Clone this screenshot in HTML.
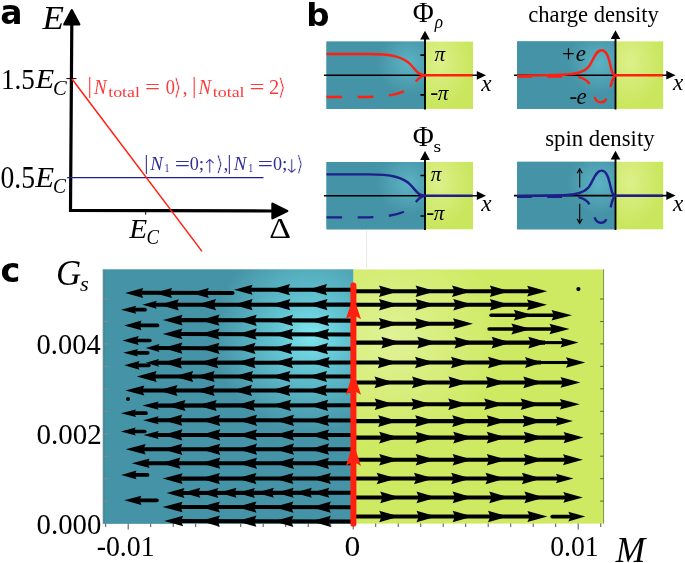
<!DOCTYPE html>
<html lang="en"><head><meta charset="utf-8"><title>Figure</title>
<style>html,body{margin:0;padding:0;background:#fff}svg{display:block}text{white-space:pre}</style>
</head><body>
<svg width="685" height="563" viewBox="0 0 685 563">
<rect width="685" height="563" fill="#fff"/>
<defs>
<radialGradient id="gb" gradientUnits="userSpaceOnUse" cx="311" cy="335" r="98">
<stop offset="0" stop-color="#7fe6ee"/><stop offset="0.35" stop-color="#62c4d2"/><stop offset="1" stop-color="#4593a6"/>
</radialGradient>
<radialGradient id="gg" gradientUnits="userSpaceOnUse" cx="392" cy="338" r="110">
<stop offset="0" stop-color="#e0f296"/><stop offset="1" stop-color="#ceea62"/>
</radialGradient>
<radialGradient id="sb" gradientUnits="objectBoundingBox" cx="0.83" cy="0.32" r="0.32" gradientTransform="translate(0.83 0.32) scale(1 1.45) translate(-0.83 -0.32)">
<stop offset="0" stop-color="#5cb3c3"/><stop offset="1" stop-color="#4593a6"/>
</radialGradient>
<radialGradient id="sg" gradientUnits="objectBoundingBox" cx="0.3" cy="0.3" r="0.7">
<stop offset="0" stop-color="#dcf08a"/><stop offset="1" stop-color="#c9e65c"/>
</radialGradient>
</defs>
<text x="0.2" y="24.3" font-size="33" fill="#000" font-family='"DejaVu Sans", "Liberation Sans", sans-serif' font-weight="bold" >a</text>
<text x="42.6" y="29.2" font-size="33" fill="#000" font-family='"Liberation Serif", serif' font-style="italic" textLength="21.5" lengthAdjust="spacingAndGlyphs" >E</text>
<path d="M71.8 24 L70.5 210.3 L272 211" fill="none" stroke="#000" stroke-width="3.2" stroke-linejoin="miter"/>
<path d="M71.8 10.2 L79.2 24.4 H64.4 Z" fill="#000" stroke="#000" stroke-width="2.4" stroke-linejoin="round"/>
<path d="M287.2 211 L272.5 203.7 V218.3 Z" fill="#000" stroke="#000" stroke-width="2.4" stroke-linejoin="round"/>
<path d="M66.4 78.6 H76.4" stroke="#000" stroke-width="1"/>
<path d="M145.7 210 V214.6" stroke="#000" stroke-width="1"/>
<text x="1.01" y="88.69" font-size="29.21" fill="#000" font-family='"Liberation Serif", serif' textLength="33.95" lengthAdjust="spacingAndGlyphs" >1.5</text>
<text x="35.56" y="88.4" font-size="27.49" fill="#000" font-family='"Liberation Serif", serif' font-style="italic" textLength="18.73" lengthAdjust="spacingAndGlyphs" >E</text>
<text x="52.95" y="95.0" font-size="20.5" fill="#000" font-family='"Liberation Serif", serif' font-style="italic" textLength="13.76" lengthAdjust="spacingAndGlyphs" >C</text>
<text x="0.45" y="187.76" font-size="30.77" fill="#000" font-family='"Liberation Serif", serif' textLength="34.53" lengthAdjust="spacingAndGlyphs" >0.5</text>
<text x="35.36" y="187.1" font-size="28.56" fill="#000" font-family='"Liberation Serif", serif' font-style="italic" textLength="18.84" lengthAdjust="spacingAndGlyphs" >E</text>
<text x="53.01" y="193.0" font-size="20.3" fill="#000" font-family='"Liberation Serif", serif' font-style="italic" textLength="13.0" lengthAdjust="spacingAndGlyphs" >C</text>
<text x="129.34" y="238.3" font-size="27.49" fill="#000" font-family='"Liberation Serif", serif' font-style="italic" textLength="17.93" lengthAdjust="spacingAndGlyphs" >E</text>
<text x="146.56" y="243.8" font-size="20.5" fill="#000" font-family='"Liberation Serif", serif' font-style="italic" textLength="12.47" lengthAdjust="spacingAndGlyphs" >C</text>
<text x="269.31" y="238.2" font-size="29.5" fill="#000" font-family='"Liberation Serif", serif' textLength="21.76" lengthAdjust="spacingAndGlyphs" >Δ</text>
<path d="M67.2 177.7 H263.5" stroke="#1f1f8c" stroke-width="1.2" fill="none"/>
<path d="M72 79 L202 251.4" stroke="#ff2010" stroke-width="1.5" fill="none"/>
<text x="87.44" y="93.31" font-size="22.65" fill="#ff3a3a" font-family='"Liberation Serif", serif' textLength="4.42" lengthAdjust="spacingAndGlyphs" >|</text>
<text x="93.94" y="93.6" font-size="20.5" fill="#ff3a3a" font-family='"Liberation Serif", serif' font-style="italic" textLength="12.59" lengthAdjust="spacingAndGlyphs" >N</text>
<text x="108.23" y="96.6" font-size="14.5" fill="#ff3a3a" font-family='"Liberation Serif", serif' textLength="31.73" lengthAdjust="spacingAndGlyphs" >total</text>
<text x="144.97" y="94.2" font-size="21" fill="#ff3a3a" font-family='"Liberation Serif", serif' textLength="15.03" lengthAdjust="spacingAndGlyphs" >=</text>
<text x="192.04" y="93.31" font-size="22.65" fill="#ff3a3a" font-family='"Liberation Serif", serif' textLength="4.42" lengthAdjust="spacingAndGlyphs" >|</text>
<text x="198.54" y="93.6" font-size="20.5" fill="#ff3a3a" font-family='"Liberation Serif", serif' font-style="italic" textLength="12.59" lengthAdjust="spacingAndGlyphs" >N</text>
<text x="212.83" y="96.6" font-size="14.5" fill="#ff3a3a" font-family='"Liberation Serif", serif' textLength="31.73" lengthAdjust="spacingAndGlyphs" >total</text>
<text x="249.57" y="94.2" font-size="21" fill="#ff3a3a" font-family='"Liberation Serif", serif' textLength="15.03" lengthAdjust="spacingAndGlyphs" >=</text>
<text x="165.7" y="93.6" font-size="20.5" fill="#ff3a3a" font-family='"Liberation Serif", serif' textLength="9.2" lengthAdjust="spacingAndGlyphs" >0</text>
<text x="173.29" y="95.15" font-size="23.13" fill="#ff3a3a" font-family='"DejaVu Sans", sans-serif' textLength="8.31" lengthAdjust="spacingAndGlyphs" stroke="#fff" stroke-width="0.55">⟩</text>
<text x="182.6" y="93.6" font-size="20.5" fill="#ff3a3a" font-family='"Liberation Serif", serif' >,</text>
<text x="268.9" y="93.6" font-size="20.5" fill="#ff3a3a" font-family='"Liberation Serif", serif' textLength="10.23" lengthAdjust="spacingAndGlyphs" >2</text>
<text x="277.52" y="95.15" font-size="23.13" fill="#ff3a3a" font-family='"DejaVu Sans", sans-serif' textLength="8.66" lengthAdjust="spacingAndGlyphs" stroke="#fff" stroke-width="0.55">⟩</text>
<text x="144.21" y="168.99" font-size="20.45" fill="#2f2f96" font-family='"Liberation Serif", serif' textLength="4.22" lengthAdjust="spacingAndGlyphs" >|</text>
<text x="227.31" y="168.99" font-size="20.45" fill="#2f2f96" font-family='"Liberation Serif", serif' textLength="4.22" lengthAdjust="spacingAndGlyphs" >|</text>
<text x="150.34" y="169.9" font-size="19.5" fill="#2f2f96" font-family='"Liberation Serif", serif' font-style="italic" textLength="12.59" lengthAdjust="spacingAndGlyphs" >N</text>
<text x="233.74" y="169.9" font-size="19.5" fill="#2f2f96" font-family='"Liberation Serif", serif' font-style="italic" textLength="12.59" lengthAdjust="spacingAndGlyphs" >N</text>
<text x="164.43" y="171.6" font-size="13.5" fill="#2f2f96" font-family='"Liberation Serif", serif' textLength="4.97" lengthAdjust="spacingAndGlyphs" >1</text>
<text x="248.13" y="171.6" font-size="13.5" fill="#2f2f96" font-family='"Liberation Serif", serif' textLength="4.97" lengthAdjust="spacingAndGlyphs" >1</text>
<text x="174.65" y="171.3" font-size="20" fill="#2f2f96" font-family='"Liberation Serif", serif' textLength="15.27" lengthAdjust="spacingAndGlyphs" >=</text>
<text x="257.65" y="171.3" font-size="20" fill="#2f2f96" font-family='"Liberation Serif", serif' textLength="15.27" lengthAdjust="spacingAndGlyphs" >=</text>
<text x="189.81" y="169.9" font-size="19.5" fill="#2f2f96" font-family='"Liberation Serif", serif' textLength="9.08" lengthAdjust="spacingAndGlyphs" >0</text>
<text x="272.91" y="169.9" font-size="19.5" fill="#2f2f96" font-family='"Liberation Serif", serif' textLength="9.08" lengthAdjust="spacingAndGlyphs" >0</text>
<text x="198.7" y="169.9" font-size="19.5" fill="#2f2f96" font-family='"Liberation Serif", serif' >;</text>
<text x="282" y="169.9" font-size="19.5" fill="#2f2f96" font-family='"Liberation Serif", serif' >;</text>
<text x="200.9" y="172.8" font-size="19.39" fill="#2f2f96" font-family='"DejaVu Sans", sans-serif' textLength="17.63" lengthAdjust="spacingAndGlyphs" stroke="#fff" stroke-width="0.55">↑</text>
<text x="215.53" y="170.65" font-size="20.88" fill="#2f2f96" font-family='"DejaVu Sans", sans-serif' textLength="8.13" lengthAdjust="spacingAndGlyphs" stroke="#fff" stroke-width="0.55">⟩</text>
<text x="223.4" y="169.9" font-size="19.5" fill="#2f2f96" font-family='"Liberation Serif", serif' >,</text>
<text x="282.9" y="172.73" font-size="19.39" fill="#2f2f96" font-family='"DejaVu Sans", sans-serif' textLength="17.63" lengthAdjust="spacingAndGlyphs" stroke="#fff" stroke-width="0.55">↓</text>
<text x="296.0" y="170.65" font-size="20.88" fill="#2f2f96" font-family='"DejaVu Sans", sans-serif' textLength="7.78" lengthAdjust="spacingAndGlyphs" stroke="#fff" stroke-width="0.55">⟩</text>
<text x="306.3" y="26.2" font-size="32.5" fill="#000" font-family='"DejaVu Sans", "Liberation Sans", sans-serif' font-weight="bold" >b</text>
<rect x="326.5" y="41.6" width="98.5" height="67.30000000000001" fill="#4593a6"/>
<rect x="326.5" y="41.6" width="98.5" height="67.30000000000001" fill="url(#sb)"/>
<rect x="425.0" y="41.6" width="48.0" height="67.30000000000001" fill="url(#sg)"/>
<path d="M324 75.3 H480" stroke="#000" stroke-width="1.6"/>
<path d="M486 75.3 L476.8 70.89999999999999 V79.7 Z" fill="#000"/>
<path d="M425.0 109.5 V36.7" stroke="#000" stroke-width="1.9"/>
<path d="M425.0 30.7 L420.2 39.5 H429.8 Z" fill="#000"/>
<path d="M420.4 55.1 H425.0 M420.4 94.9 H425.0" stroke="#000" stroke-width="1.7"/>
<path d="M326.5 54 H368 C392 54 403 57 410 64 C416 70 418 75.2 425.0 75.3 H472.5" fill="none" stroke="#ff2010" stroke-width="2.4"/>
<path d="M326.5 97 H362 C390 97 403 93.5 411 87 C417 81 419 75.6 425.0 75.4" fill="none" stroke="#ff2010" stroke-width="2.4" stroke-dasharray="15.6 15.6"/>
<text x="412.83" y="21.9" font-size="28.56" fill="#000" font-family='"Liberation Serif", serif' textLength="21.04" lengthAdjust="spacingAndGlyphs" >Φ</text>
<text x="434.64" y="27.84" font-size="19.06" fill="#000" font-family='"Liberation Serif", serif' font-style="italic" textLength="8.28" lengthAdjust="spacingAndGlyphs" >ρ</text>
<text x="434.49" y="60.5" font-size="20.27" fill="#000" font-family='"Liberation Serif", serif' font-style="italic" textLength="10.63" lengthAdjust="spacingAndGlyphs" >π</text>
<text x="430.3" y="99.5" font-size="24" fill="#000" font-family='"Liberation Serif", serif' >-</text>
<text x="437.89" y="99.5" font-size="20.27" fill="#000" font-family='"Liberation Serif", serif' font-style="italic" textLength="10.63" lengthAdjust="spacingAndGlyphs" >π</text>
<text x="481.28" y="91" font-size="24" fill="#000" font-family='"Liberation Serif", serif' font-style="italic" textLength="10.29" lengthAdjust="spacingAndGlyphs" >x</text>
<rect x="517" y="41.4" width="98.5" height="67.5" fill="#4593a6"/>
<rect x="517" y="41.4" width="98.5" height="67.5" fill="url(#sb)"/>
<rect x="615.5" y="41.4" width="47.700000000000045" height="67.5" fill="url(#sg)"/>
<path d="M514 75.2 H669.5" stroke="#000" stroke-width="1.6"/>
<path d="M675.5 75.2 L666.3 70.8 V79.60000000000001 Z" fill="#000"/>
<path d="M615.5 109.5 V36.3" stroke="#000" stroke-width="1.9"/>
<path d="M615.5 30.3 L610.7 39.1 H620.3 Z" fill="#000"/>
<path d="M517 76.5 H563.2" fill="none" stroke="#ff2010" stroke-width="2.4" stroke-dasharray="14.7 15.6"/>
<path d="M578.3 76.8 C583 77.8 587 80 589.5 84" fill="none" stroke="#ff2010" stroke-width="2.4" stroke-linecap="butt"/>
<path d="M594.6 97 C596.5 103.6 603.8 104 606.4 98.8" fill="none" stroke="#ff2010" stroke-width="2.4"/>
<path d="M610.6 87 C612 82 612.5 77 615.5 75.4" fill="none" stroke="#ff2010" stroke-width="2.4"/>
<path d="M517 75.9 L564 74.7 C576 74.4 584 72.5 588.7 66.8 C593.5 60.5 595.3 50.2 601.5 50.2 C608 50.2 609.5 62.5 611.5 70 C612.5 74 613.5 75.2 615.5 75.3 H662.8" fill="none" stroke="#ff2010" stroke-width="2.4"/>
<text x="528.34" y="21.8" font-size="22.8" fill="#000" font-family='"Liberation Serif", serif' textLength="130.54" lengthAdjust="spacingAndGlyphs" >charge density</text>
<text x="562" y="60.8" font-size="23" fill="#000" font-family='"Liberation Serif", serif' >+</text>
<text x="575.8" y="60.8" font-size="23" fill="#000" font-family='"Liberation Serif", serif' font-style="italic" >e</text>
<text x="569.5" y="104" font-size="23" fill="#000" font-family='"Liberation Serif", serif' >-</text>
<text x="576.5" y="104" font-size="23" fill="#000" font-family='"Liberation Serif", serif' font-style="italic" >e</text>
<text x="672.88" y="90.4" font-size="24" fill="#000" font-family='"Liberation Serif", serif' font-style="italic" textLength="10.29" lengthAdjust="spacingAndGlyphs" >x</text>
<rect x="326.5" y="162.0" width="98.5" height="67.30000000000001" fill="#4593a6"/>
<rect x="326.5" y="162.0" width="98.5" height="67.30000000000001" fill="url(#sb)"/>
<rect x="425.0" y="162.0" width="48.0" height="67.30000000000001" fill="url(#sg)"/>
<path d="M324 195.7 H480" stroke="#000" stroke-width="1.6"/>
<path d="M486 195.7 L476.8 191.29999999999998 V200.1 Z" fill="#000"/>
<path d="M425.0 229.9 V157.1" stroke="#000" stroke-width="1.9"/>
<path d="M425.0 151.1 L420.2 159.9 H429.8 Z" fill="#000"/>
<path d="M420.4 175.5 H425.0 M420.4 216.0 H425.0" stroke="#000" stroke-width="1.7"/>
<path d="M326.5 174.4 H368 C392 174.4 403 177.4 410 184.4 C416 190.4 418 195.60000000000002 425.0 195.7 H472.5" fill="none" stroke="#1f1f8c" stroke-width="2.4"/>
<path d="M326.5 217.4 H362 C390 217.4 403 213.9 411 207.4 C417 201.4 419 196.0 425.0 195.8" fill="none" stroke="#1f1f8c" stroke-width="2.4" stroke-dasharray="15.6 15.6"/>
<text x="412.83" y="146.1" font-size="29.02" fill="#000" font-family='"Liberation Serif", serif' textLength="21.04" lengthAdjust="spacingAndGlyphs" >Φ</text>
<text x="433.6" y="151.53" font-size="17.47" fill="#000" font-family='"Liberation Serif", serif' textLength="7.61" lengthAdjust="spacingAndGlyphs" >s</text>
<text x="430.69" y="181.1" font-size="20.27" fill="#000" font-family='"Liberation Serif", serif' font-style="italic" textLength="10.63" lengthAdjust="spacingAndGlyphs" >π</text>
<text x="426.3" y="220.3" font-size="24" fill="#000" font-family='"Liberation Serif", serif' >-</text>
<text x="433.89" y="219.8" font-size="20.27" fill="#000" font-family='"Liberation Serif", serif' font-style="italic" textLength="10.63" lengthAdjust="spacingAndGlyphs" >π</text>
<text x="481.28" y="211.4" font-size="24" fill="#000" font-family='"Liberation Serif", serif' font-style="italic" textLength="10.29" lengthAdjust="spacingAndGlyphs" >x</text>
<rect x="517" y="161.8" width="98.5" height="67.5" fill="#4593a6"/>
<rect x="517" y="161.8" width="98.5" height="67.5" fill="url(#sb)"/>
<rect x="615.5" y="161.8" width="47.700000000000045" height="67.5" fill="url(#sg)"/>
<path d="M514 195.60000000000002 H669.5" stroke="#000" stroke-width="1.6"/>
<path d="M675.5 195.60000000000002 L666.3 191.20000000000002 V200.00000000000003 Z" fill="#000"/>
<path d="M615.5 229.9 V156.70000000000002" stroke="#000" stroke-width="1.9"/>
<path d="M615.5 150.70000000000002 L610.7 159.50000000000003 H620.3 Z" fill="#000"/>
<path d="M517 196.9 H563.2" fill="none" stroke="#1f1f8c" stroke-width="2.4" stroke-dasharray="14.7 15.6"/>
<path d="M578.3 197.2 C583 198.2 587 200.4 589.5 204.4" fill="none" stroke="#1f1f8c" stroke-width="2.4" stroke-linecap="butt"/>
<path d="M594.6 217.4 C596.5 224.0 603.8 224.4 606.4 219.2" fill="none" stroke="#1f1f8c" stroke-width="2.4"/>
<path d="M610.6 207.4 C612 202.4 612.5 197.4 615.5 195.8" fill="none" stroke="#1f1f8c" stroke-width="2.4"/>
<path d="M517 196.3 L564 195.1 C576 194.8 584 192.9 588.7 187.2 C593.5 180.9 595.3 170.6 601.5 170.6 C608 170.6 609.5 182.9 611.5 190.4 C612.5 194.4 613.5 195.6 615.5 195.7 H662.8" fill="none" stroke="#1f1f8c" stroke-width="2.4"/>
<text x="545.27" y="146.2" font-size="22.8" fill="#000" font-family='"Liberation Serif", serif' textLength="109.32" lengthAdjust="spacingAndGlyphs" >spin density</text>
<path d="M579.7 187.6 V169.5 M577.1 173.2 L579.7 168.8 L582.3000000000001 173.2" fill="none" stroke="#000" stroke-width="1.1"/>
<path d="M579.7 203.8 V222.6 M577.1 218.9 L579.7 223.3 L582.3000000000001 218.9" fill="none" stroke="#000" stroke-width="1.1"/>
<text x="672.88" y="210.8" font-size="24" fill="#000" font-family='"Liberation Serif", serif' font-style="italic" textLength="10.29" lengthAdjust="spacingAndGlyphs" >x</text>
<path d="M366.6 230 V268" stroke="#e8e8e8" stroke-width="1"/>
<text x="0.6" y="281.7" font-size="33.5" fill="#000" font-family='"DejaVu Sans", "Liberation Sans", sans-serif' font-weight="bold" >c</text>
<text x="55.88" y="284.58" font-size="36.22" fill="#000" font-family='"Liberation Serif", serif' font-style="italic" textLength="25.17" lengthAdjust="spacingAndGlyphs" >G</text>
<text x="80.13" y="291.0" font-size="20.79" fill="#000" font-family='"Liberation Serif", serif' font-style="italic" textLength="8.76" lengthAdjust="spacingAndGlyphs" >s</text>
<text x="615.81" y="561.9" font-size="35.58" fill="#000" font-family='"Liberation Serif", serif' font-style="italic" textLength="29.46" lengthAdjust="spacingAndGlyphs" >M</text>
<rect x="102.9" y="269.2" width="250.49999999999997" height="254.40000000000003" fill="#4593a6"/>
<rect x="102.9" y="269.2" width="250.49999999999997" height="254.40000000000003" fill="url(#gb)"/>
<rect x="353.4" y="269.2" width="250.20000000000005" height="254.40000000000003" fill="url(#gg)"/>
<path d="M102.9 269.2 V523.6" stroke="#d9cfd2" stroke-width="1"/>
<path d="M103.80000000000001 269.2 V523.6" stroke="#3a7f92" stroke-width="0.9"/>
<path d="M603.6 269.2 V523.6" stroke="#7f8f4a" stroke-width="1"/>
<path d="M102.9 269.5 H603.6" stroke="#ffffff" stroke-opacity="0.35" stroke-width="0.8"/>
<path d="M103.4 501.1 h5.2 M103.4 478.7 h5.2 M103.4 456.2 h5.2 M103.4 433.8 h5.2 M103.4 411.3 h5.2 M103.4 388.8 h5.2 M103.4 366.4 h5.2 M103.4 343.9 h5.2 M103.4 321.5 h5.2 M103.4 299.0 h5.2" stroke="#85898a" stroke-width="1" fill="none"/>
<path d="M603.6 501.1 h-3.4 M603.6 478.7 h-3.4 M603.6 456.2 h-3.4 M603.6 433.8 h-3.4 M603.6 411.3 h-3.4 M603.6 388.8 h-3.4 M603.6 366.4 h-3.4 M603.6 343.9 h-3.4 M603.6 321.5 h-3.4 M603.6 299.0 h-3.4" stroke="#4a5530" stroke-width="0.9" fill="none"/>
<path d="M105.7 523.6 v3.3 M128.2 523.6 v6 M150.7 523.6 v3.3 M173.2 523.6 v3.3 M195.7 523.6 v3.3 M218.2 523.6 v3.3 M240.7 523.6 v3.3 M263.2 523.6 v3.3 M285.7 523.6 v3.3 M308.2 523.6 v3.3 M330.7 523.6 v3.3 M353.2 523.6 v6 M375.7 523.6 v3.3 M398.2 523.6 v3.3 M420.7 523.6 v3.3 M443.2 523.6 v3.3 M465.7 523.6 v3.3 M488.2 523.6 v3.3 M510.7 523.6 v3.3 M533.2 523.6 v3.3 M555.7 523.6 v3.3 M578.2 523.6 v6 M600.7 523.6 v3.3" stroke="#5a5a5a" stroke-width="1.05" fill="none"/>
<text x="36.61" y="354.03" font-size="29.96" fill="#000" font-family='"Liberation Serif", serif' textLength="64.13" lengthAdjust="spacingAndGlyphs" >0.004</text>
<text x="36.59" y="443.93" font-size="29.96" fill="#000" font-family='"Liberation Serif", serif' textLength="65.31" lengthAdjust="spacingAndGlyphs" >0.002</text>
<text x="36.6" y="533.73" font-size="29.96" fill="#000" font-family='"Liberation Serif", serif' textLength="64.79" lengthAdjust="spacingAndGlyphs" >0.000</text>
<text x="96.67" y="556.13" font-size="29.96" fill="#000" font-family='"Liberation Serif", serif' textLength="58.01" lengthAdjust="spacingAndGlyphs" >-0.01</text>
<text x="344.6" y="556.26" font-size="30.16" fill="#000" font-family='"Liberation Serif", serif' textLength="15.81" lengthAdjust="spacingAndGlyphs" >0</text>
<text x="550.15" y="556.13" font-size="29.96" fill="#000" font-family='"Liberation Serif", serif' textLength="48.42" lengthAdjust="spacingAndGlyphs" >0.01</text>
<path d="M353.4 291.2 L530.2 291.2" stroke="#000" stroke-width="4.05" stroke-linecap="butt" fill="none"/>
<path d="M353.4 304.8 L530.0 304.8" stroke="#000" stroke-width="4.05" stroke-linecap="butt" fill="none"/>
<path d="M353.4 323.7 L456.0 323.7" stroke="#000" stroke-width="4.05" stroke-linecap="butt" fill="none"/>
<path d="M353.4 342.6 L545.0 342.6" stroke="#000" stroke-width="4.05" stroke-linecap="butt" fill="none"/>
<path d="M544.0 342.6 L563.5 342.6" stroke="#000" stroke-width="3.1" stroke-linecap="butt" fill="none"/>
<path d="M353.4 362.5 L541.0 362.5" stroke="#000" stroke-width="4.05" stroke-linecap="butt" fill="none"/>
<path d="M540.0 362.5 L569.0 362.5" stroke="#000" stroke-width="3.1" stroke-linecap="butt" fill="none"/>
<path d="M353.4 382.4 L563.5 382.4" stroke="#000" stroke-width="4.05" stroke-linecap="butt" fill="none"/>
<path d="M353.4 404.2 L562.9 404.2" stroke="#000" stroke-width="4.05" stroke-linecap="butt" fill="none"/>
<path d="M353.4 421.1 L558.9 421.1" stroke="#000" stroke-width="4.05" stroke-linecap="butt" fill="none"/>
<path d="M353.4 437.6 L566.6 437.6" stroke="#000" stroke-width="4.05" stroke-linecap="butt" fill="none"/>
<path d="M353.4 459.7 L566.0 459.7" stroke="#000" stroke-width="4.05" stroke-linecap="butt" fill="none"/>
<path d="M353.4 478.5 L558.9 478.5" stroke="#000" stroke-width="4.05" stroke-linecap="butt" fill="none"/>
<path d="M353.4 497.4 L566.3 497.4" stroke="#000" stroke-width="4.05" stroke-linecap="butt" fill="none"/>
<path d="M353.4 516.5 L530.4 516.5" stroke="#000" stroke-width="4.05" stroke-linecap="butt" fill="none"/>
<path d="M491.0 315.2 L554.5 315.2" stroke="#000" stroke-width="3.4" stroke-linecap="round" fill="none"/>
<path d="M489.0 329.0 L552.5 329.0" stroke="#000" stroke-width="3.4" stroke-linecap="round" fill="none"/>
<path d="M552.2 516.6 L571.3 516.6" stroke="#000" stroke-width="3.7" stroke-linecap="round" fill="none"/>
<path d="M353.4 289.7 L249.6 289.7" stroke="#000" stroke-width="4.05" stroke-linecap="butt" fill="none"/>
<path d="M353.4 304.6 L153.8 304.8" stroke="#000" stroke-width="4.05" stroke-linecap="butt" fill="none"/>
<path d="M353.4 320.6 L179.6 320.1" stroke="#000" stroke-width="4.05" stroke-linecap="butt" fill="none"/>
<path d="M353.4 334.5 L179.4 333.9" stroke="#000" stroke-width="4.05" stroke-linecap="butt" fill="none"/>
<path d="M353.4 348.8 L156.5 348.0" stroke="#000" stroke-width="4.05" stroke-linecap="butt" fill="none"/>
<path d="M353.4 362.5 L156.1 362.8" stroke="#000" stroke-width="4.05" stroke-linecap="butt" fill="none"/>
<path d="M353.4 376.5 L153.7 376.5" stroke="#000" stroke-width="4.05" stroke-linecap="butt" fill="none"/>
<path d="M353.4 390.4 L141.4 390.5" stroke="#000" stroke-width="4.05" stroke-linecap="butt" fill="none"/>
<path d="M353.4 405.2 L155.7 405.6" stroke="#000" stroke-width="4.05" stroke-linecap="butt" fill="none"/>
<path d="M353.4 420.4 L155.7 420.2" stroke="#000" stroke-width="4.05" stroke-linecap="butt" fill="none"/>
<path d="M353.4 435.0 L155.7 434.9" stroke="#000" stroke-width="4.05" stroke-linecap="butt" fill="none"/>
<path d="M353.4 449.2 L142.7 449.3" stroke="#000" stroke-width="4.05" stroke-linecap="butt" fill="none"/>
<path d="M353.4 463.3 L146.7 463.2" stroke="#000" stroke-width="4.05" stroke-linecap="butt" fill="none"/>
<path d="M353.4 478.5 L179.6 478.6" stroke="#000" stroke-width="4.05" stroke-linecap="butt" fill="none"/>
<path d="M353.4 492.7 L181.5 493.0" stroke="#000" stroke-width="4.05" stroke-linecap="butt" fill="none"/>
<path d="M353.4 507.2 L179.6 507.0" stroke="#000" stroke-width="4.05" stroke-linecap="butt" fill="none"/>
<path d="M353.4 521.4 L180.2 521.0" stroke="#000" stroke-width="4.05" stroke-linecap="butt" fill="none"/>
<path d="M232.5 293.0 L140.0 292.7" stroke="#000" stroke-width="4.05" stroke-linecap="round" fill="none"/>
<path d="M145.0 309.7 L134.2 309.7" stroke="#000" stroke-width="3.7" stroke-linecap="round" fill="none"/>
<path d="M157.5 325.4 L139.5 325.4" stroke="#000" stroke-width="3.7" stroke-linecap="round" fill="none"/>
<path d="M149.8 340.5 L136.7 340.5" stroke="#000" stroke-width="3.7" stroke-linecap="round" fill="none"/>
<path d="M147.7 352.8 L136.0 352.8" stroke="#000" stroke-width="3.7" stroke-linecap="round" fill="none"/>
<path d="M148.8 365.3 L137.5 365.3" stroke="#000" stroke-width="3.7" stroke-linecap="round" fill="none"/>
<path d="M145.9 413.2 L134.0 413.2" stroke="#000" stroke-width="3.7" stroke-linecap="round" fill="none"/>
<path d="M144.7 431.5 L133.7 431.5" stroke="#000" stroke-width="3.7" stroke-linecap="round" fill="none"/>
<path d="M147.5 474.9 L134.5 474.9" stroke="#000" stroke-width="3.7" stroke-linecap="round" fill="none"/>
<path d="M156.9 500.3 L139.4 500.3" stroke="#000" stroke-width="3.7" stroke-linecap="round" fill="none"/>
<path d="M399.0 291.2 L379.0 285.4 L381.4 291.2 L379.0 297.0 Z M435.6 291.2 L415.6 285.4 L418.0 291.2 L415.6 297.0 Z M472.0 291.2 L452.0 285.4 L454.4 291.2 L452.0 297.0 Z M509.8 291.2 L489.8 285.4 L492.2 291.2 L489.8 297.0 Z M547.2 291.2 L527.2 285.8 L529.6 291.2 L527.2 296.6 Z M399.0 304.8 L379.0 299.0 L381.4 304.8 L379.0 310.6 Z M435.6 304.8 L415.6 299.0 L418.0 304.8 L415.6 310.6 Z M473.3 304.8 L453.3 299.0 L455.7 304.8 L453.3 310.6 Z M509.8 304.8 L489.8 299.0 L492.2 304.8 L489.8 310.6 Z M547.0 304.8 L527.0 299.4 L529.4 304.8 L527.0 310.2 Z M399.0 323.7 L379.0 317.9 L381.4 323.7 L379.0 329.5 Z M435.0 323.7 L415.0 317.9 L417.4 323.7 L415.0 329.5 Z M473.0 323.7 L453.0 318.2 L455.4 323.7 L453.0 329.2 Z M401.4 342.6 L381.4 336.8 L383.8 342.6 L381.4 348.4 Z M437.3 342.6 L417.3 336.8 L419.7 342.6 L417.3 348.4 Z M474.5 342.6 L454.5 336.8 L456.9 342.6 L454.5 348.4 Z M511.6 342.6 L491.6 336.8 L494.0 342.6 L491.6 348.4 Z M548.3 342.6 L528.3 336.8 L530.7 342.6 L528.3 348.4 Z M578.5 342.6 L560.5 337.8 L562.9 342.6 L560.5 347.5 Z M397.8 362.5 L377.8 356.7 L380.2 362.5 L377.8 368.3 Z M435.0 362.5 L415.0 356.7 L417.4 362.5 L415.0 368.3 Z M471.0 362.5 L451.0 356.7 L453.4 362.5 L451.0 368.3 Z M508.0 362.5 L488.0 356.7 L490.4 362.5 L488.0 368.3 Z M542.5 362.5 L525.0 356.9 L527.4 362.5 L525.0 368.1 Z M585.3 362.5 L566.0 357.2 L568.4 362.5 L566.0 367.8 Z M394.5 382.4 L374.5 376.6 L376.9 382.4 L374.5 388.2 Z M432.0 382.4 L412.0 376.6 L414.4 382.4 L412.0 388.2 Z M468.5 382.4 L448.5 376.6 L450.9 382.4 L448.5 388.2 Z M506.0 382.4 L486.0 376.6 L488.4 382.4 L486.0 388.2 Z M543.3 382.4 L523.3 376.6 L525.7 382.4 L523.3 388.2 Z M580.4 382.4 L560.5 377.0 L562.9 382.4 L560.5 387.8 Z M394.7 404.2 L374.7 398.4 L377.1 404.2 L374.7 410.0 Z M431.5 404.2 L411.5 398.4 L413.9 404.2 L411.5 410.0 Z M468.2 404.2 L448.2 398.4 L450.6 404.2 L448.2 410.0 Z M504.2 404.2 L484.2 398.4 L486.6 404.2 L484.2 410.0 Z M540.7 404.2 L520.7 398.4 L523.1 404.2 L520.7 410.0 Z M579.8 404.2 L559.9 398.9 L562.3 404.2 L559.9 409.5 Z M398.2 421.1 L378.2 415.3 L380.6 421.1 L378.2 426.9 Z M435.2 421.1 L415.2 415.3 L417.6 421.1 L415.2 426.9 Z M472.2 421.1 L452.2 415.3 L454.6 421.1 L452.2 426.9 Z M506.8 421.1 L486.8 415.3 L489.2 421.1 L486.8 426.9 Z M542.7 421.1 L522.7 415.3 L525.1 421.1 L522.7 426.9 Z M572.9 421.1 L555.9 416.4 L558.3 421.1 L555.9 425.8 Z M399.2 437.6 L379.2 431.8 L381.6 437.6 L379.2 443.4 Z M435.7 437.6 L415.7 431.8 L418.1 437.6 L415.7 443.4 Z M473.2 437.6 L453.2 431.8 L455.6 437.6 L453.2 443.4 Z M506.8 437.6 L486.8 431.8 L489.2 437.6 L486.8 443.4 Z M543.8 437.6 L523.8 431.8 L526.2 437.6 L523.8 443.4 Z M583.5 437.6 L563.6 432.0 L566.0 437.6 L563.6 443.2 Z M399.2 459.7 L379.2 453.9 L381.6 459.7 L379.2 465.5 Z M435.7 459.7 L415.7 453.9 L418.1 459.7 L415.7 465.5 Z M472.6 459.7 L452.6 453.9 L455.0 459.7 L452.6 465.5 Z M506.8 459.7 L486.8 453.9 L489.2 459.7 L486.8 465.5 Z M543.8 459.7 L523.8 453.9 L526.2 459.7 L523.8 465.5 Z M582.9 459.7 L563.0 454.2 L565.4 459.7 L563.0 465.2 Z M396.7 478.5 L376.7 472.7 L379.1 478.5 L376.7 484.3 Z M434.0 478.5 L414.0 472.7 L416.4 478.5 L414.0 484.3 Z M471.2 478.5 L451.2 472.7 L453.6 478.5 L451.2 484.3 Z M505.5 478.5 L485.5 472.7 L487.9 478.5 L485.5 484.3 Z M541.9 478.5 L521.9 472.7 L524.3 478.5 L521.9 484.3 Z M573.5 478.5 L555.9 473.8 L558.3 478.5 L555.9 483.2 Z M400.2 497.4 L380.2 491.6 L382.6 497.4 L380.2 503.2 Z M436.5 497.4 L416.5 491.6 L418.9 497.4 L416.5 503.2 Z M472.6 497.4 L452.6 491.6 L455.0 497.4 L452.6 503.2 Z M509.2 497.4 L489.2 491.6 L491.6 497.4 L489.2 503.2 Z M544.4 497.4 L524.4 491.6 L526.8 497.4 L524.4 503.2 Z M582.9 497.4 L563.3 492.0 L565.7 497.4 L563.3 502.8 Z M399.2 516.5 L379.2 510.7 L381.6 516.5 L379.2 522.3 Z M436.5 516.5 L416.5 510.7 L418.9 516.5 L416.5 522.3 Z M472.6 516.5 L452.6 510.7 L455.0 516.5 L452.6 522.3 Z M508.0 516.5 L488.0 510.7 L490.4 516.5 L488.0 522.3 Z M547.4 516.5 L527.4 511.0 L529.8 516.5 L527.4 522.0 Z M533.8 315.2 L513.8 309.8 L516.2 315.2 L513.8 320.6 Z M572.0 315.2 L551.5 309.9 L553.9 315.2 L551.5 320.5 Z M531.4 329.0 L511.4 323.6 L513.8 329.0 L511.4 334.4 Z M569.5 329.0 L549.5 323.7 L551.9 329.0 L549.5 334.3 Z M585.3 516.6 L568.3 511.8 L570.7 516.6 L568.3 521.4 Z M307.4 289.7 L327.0 284.1 L324.8 289.7 L327.0 295.3 Z M270.4 289.7 L290.0 284.1 L287.8 289.7 L290.0 295.3 Z M234.0 289.7 L252.6 284.7 L250.4 289.7 L252.6 294.7 Z M307.9 304.6 L327.5 299.0 L325.3 304.6 L327.5 310.2 Z M270.7 304.7 L290.3 299.1 L288.1 304.7 L290.3 310.3 Z M233.0 304.7 L252.6 299.1 L250.4 304.7 L252.6 310.3 Z M196.4 304.7 L216.0 299.1 L213.8 304.7 L216.0 310.3 Z M159.2 304.8 L178.8 299.2 L176.6 304.8 L178.8 310.4 Z M142.4 304.8 L156.8 300.8 L154.6 304.8 L156.8 308.8 Z M309.4 320.5 L329.0 314.9 L326.8 320.5 L329.0 326.1 Z M273.4 320.4 L293.0 314.8 L290.8 320.4 L293.0 326.0 Z M237.1 320.3 L256.7 314.7 L254.5 320.3 L256.7 325.9 Z M199.9 320.2 L219.5 314.6 L217.3 320.2 L219.5 325.8 Z M163.0 320.1 L182.6 314.7 L180.4 320.1 L182.6 325.5 Z M309.4 334.4 L329.0 328.8 L326.8 334.4 L329.0 340.0 Z M273.4 334.3 L293.0 328.7 L290.8 334.3 L293.0 339.9 Z M237.1 334.2 L256.7 328.6 L254.5 334.2 L256.7 339.8 Z M199.9 334.0 L219.5 328.4 L217.3 334.0 L219.5 339.6 Z M162.8 333.9 L182.4 328.5 L180.2 333.9 L182.4 339.3 Z M308.4 348.7 L328.0 343.1 L325.8 348.7 L328.0 354.3 Z M272.4 348.6 L292.0 343.0 L289.8 348.6 L292.0 354.2 Z M235.9 348.4 L255.5 342.8 L253.3 348.4 L255.5 354.0 Z M199.9 348.3 L219.5 342.7 L217.3 348.3 L219.5 353.9 Z M162.8 348.1 L182.4 342.5 L180.2 348.1 L182.4 353.7 Z M145.7 348.0 L159.5 344.1 L157.3 348.0 L159.5 351.9 Z M310.1 362.5 L329.7 356.9 L327.5 362.5 L329.7 368.1 Z M273.4 362.6 L293.0 357.0 L290.8 362.6 L293.0 368.2 Z M235.9 362.6 L255.5 357.0 L253.3 362.6 L255.5 368.2 Z M198.7 362.7 L218.3 357.1 L216.1 362.7 L218.3 368.3 Z M162.4 362.8 L182.0 357.2 L179.8 362.8 L182.0 368.4 Z M145.6 362.8 L159.1 358.9 L156.9 362.8 L159.1 366.7 Z M307.4 376.5 L327.0 370.9 L324.8 376.5 L327.0 382.1 Z M270.7 376.5 L290.3 370.9 L288.1 376.5 L290.3 382.1 Z M233.5 376.5 L253.1 370.9 L250.9 376.5 L253.1 382.1 Z M195.1 376.5 L214.7 370.9 L212.5 376.5 L214.7 382.1 Z M173.6 376.5 L193.2 370.9 L191.0 376.5 L193.2 382.1 Z M136.7 376.5 L156.7 371.1 L154.5 376.5 L156.7 381.9 Z M307.4 390.4 L327.0 384.8 L324.8 390.4 L327.0 396.0 Z M270.7 390.4 L290.3 384.8 L288.1 390.4 L290.3 396.0 Z M232.4 390.4 L252.0 384.8 L249.8 390.4 L252.0 396.0 Z M195.1 390.5 L214.7 384.9 L212.5 390.5 L214.7 396.1 Z M157.9 390.5 L177.5 384.9 L175.3 390.5 L177.5 396.1 Z M125.2 390.5 L144.4 385.4 L142.2 390.5 L144.4 395.6 Z M308.6 405.3 L328.2 399.7 L326.0 405.3 L328.2 410.9 Z M271.4 405.3 L291.0 399.7 L288.8 405.3 L291.0 410.9 Z M235.4 405.4 L255.0 399.8 L252.8 405.4 L255.0 411.0 Z M197.1 405.5 L216.7 399.9 L214.5 405.5 L216.7 411.1 Z M165.9 405.5 L185.5 399.9 L183.3 405.5 L185.5 411.1 Z M142.4 405.6 L158.7 401.4 L156.5 405.6 L158.7 409.8 Z M309.4 420.4 L329.0 414.8 L326.8 420.4 L329.0 426.0 Z M274.4 420.3 L294.0 414.7 L291.8 420.3 L294.0 425.9 Z M237.4 420.3 L257.0 414.7 L254.8 420.3 L257.0 425.9 Z M200.7 420.3 L220.3 414.7 L218.1 420.3 L220.3 425.9 Z M162.8 420.2 L182.4 414.6 L180.2 420.2 L182.4 425.8 Z M143.1 420.2 L158.7 416.2 L156.5 420.2 L158.7 424.2 Z M309.4 435.0 L329.0 429.4 L326.8 435.0 L329.0 440.6 Z M274.4 435.0 L294.0 429.4 L291.8 435.0 L294.0 440.6 Z M237.4 435.0 L257.0 429.4 L254.8 435.0 L257.0 440.6 Z M200.7 434.9 L220.3 429.3 L218.1 434.9 L220.3 440.5 Z M162.8 434.9 L182.4 429.3 L180.2 434.9 L182.4 440.5 Z M143.5 434.9 L158.7 430.9 L156.5 434.9 L158.7 438.9 Z M309.4 449.2 L329.0 443.6 L326.8 449.2 L329.0 454.8 Z M274.4 449.2 L294.0 443.6 L291.8 449.2 L294.0 454.8 Z M237.4 449.2 L257.0 443.6 L254.8 449.2 L257.0 454.8 Z M200.7 449.3 L220.3 443.7 L218.1 449.3 L220.3 454.9 Z M162.8 449.3 L182.4 443.7 L180.2 449.3 L182.4 454.9 Z M125.7 449.3 L145.7 444.0 L143.5 449.3 L145.7 454.6 Z M309.4 463.3 L329.0 457.7 L326.8 463.3 L329.0 468.9 Z M274.4 463.3 L294.0 457.7 L291.8 463.3 L294.0 468.9 Z M237.4 463.3 L257.0 457.7 L254.8 463.3 L257.0 468.9 Z M200.7 463.2 L220.3 457.6 L218.1 463.2 L220.3 468.8 Z M160.8 463.2 L180.4 457.6 L178.2 463.2 L180.4 468.8 Z M131.8 463.2 L149.7 458.5 L147.5 463.2 L149.7 468.0 Z M311.2 478.5 L330.8 472.9 L328.6 478.5 L330.8 484.1 Z M273.8 478.5 L293.4 472.9 L291.2 478.5 L293.4 484.1 Z M236.8 478.6 L256.4 473.0 L254.2 478.6 L256.4 484.2 Z M200.3 478.6 L219.9 473.0 L217.7 478.6 L219.9 484.2 Z M162.6 478.6 L182.6 473.3 L180.4 478.6 L182.6 483.9 Z M311.8 492.7 L329.3 487.7 L327.1 492.7 L329.3 497.7 Z M276.2 492.8 L293.7 487.8 L291.5 492.8 L293.7 497.8 Z M237.4 492.9 L254.9 487.9 L252.7 492.9 L254.9 497.9 Z M200.9 492.9 L218.4 487.9 L216.2 492.9 L218.4 497.9 Z M166.5 493.0 L184.5 488.1 L182.3 493.0 L184.5 497.9 Z M311.2 507.2 L330.8 501.6 L328.6 507.2 L330.8 512.8 Z M273.8 507.1 L293.4 501.5 L291.2 507.1 L293.4 512.7 Z M236.8 507.1 L256.4 501.5 L254.2 507.1 L256.4 512.7 Z M200.3 507.0 L219.9 501.4 L217.7 507.0 L219.9 512.6 Z M162.6 507.0 L182.6 501.7 L180.4 507.0 L182.6 512.3 Z M311.2 521.3 L330.8 515.7 L328.6 521.3 L330.8 526.9 Z M273.8 521.3 L293.4 515.7 L291.2 521.3 L293.4 526.9 Z M236.8 521.2 L256.4 515.6 L254.2 521.2 L256.4 526.8 Z M200.3 521.1 L219.9 515.5 L217.7 521.1 L219.9 526.7 Z M164.2 521.0 L183.2 515.7 L181.0 521.0 L183.2 526.3 Z M190.8 292.9 L208.8 287.9 L206.8 292.9 L208.8 297.9 Z M154.0 292.9 L172.0 287.9 L170.0 292.9 L172.0 297.9 Z M125.2 292.9 L143.2 287.9 L141.2 292.9 L143.2 297.9 Z M294.3 492.8 L311.8 487.8 L309.8 492.8 L311.8 497.8 Z M256.4 492.8 L273.9 487.8 L271.9 492.8 L273.9 497.8 Z M219.0 492.8 L236.5 487.8 L234.5 492.8 L236.5 497.8 Z M182.8 492.8 L200.3 487.8 L198.3 492.8 L200.3 497.8 Z M121.0 309.7 L136.2 305.7 L134.4 309.7 L136.2 313.7 Z M124.2 325.4 L141.5 320.5 L139.7 325.4 L141.5 330.3 Z M122.4 340.5 L138.7 336.1 L136.9 340.5 L138.7 344.9 Z M123.2 352.8 L138.0 349.0 L136.2 352.8 L138.0 356.6 Z M124.2 365.3 L139.5 360.9 L137.7 365.3 L139.5 369.7 Z M120.9 413.2 L136.0 409.4 L134.2 413.2 L136.0 417.0 Z M120.9 431.5 L135.7 427.5 L133.9 431.5 L135.7 435.5 Z M121.1 474.9 L136.5 470.5 L134.7 474.9 L136.5 479.3 Z M124.2 500.3 L141.4 495.7 L139.6 500.3 L141.4 504.9 Z" fill="#000"/>
<circle cx="578.4" cy="289.1" r="2.1" fill="#000"/>
<circle cx="128" cy="399.1" r="2" fill="#000"/>
<path d="M353.4 285.6 V523.8" stroke="#ff2010" stroke-width="6" stroke-linecap="round" fill="none"/>
<path d="M353.4 296.2 L361 319.2 L353.4 314.7 L345.8 319.2 Z M353.4 371.8 L361 394.8 L353.4 390.3 L345.8 394.8 Z M353.4 443.0 L361 466.0 L353.4 461.5 L345.8 466.0 Z" fill="#ff2010"/>
</svg>
</body></html>
